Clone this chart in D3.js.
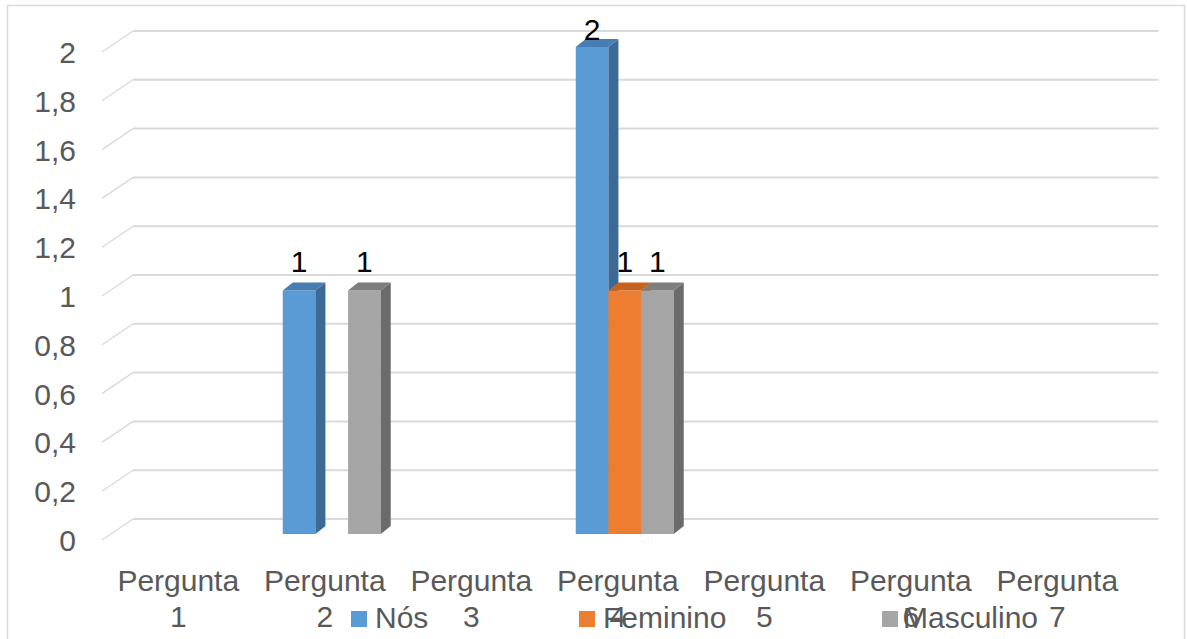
<!DOCTYPE html>
<html>
<head>
<meta charset="utf-8">
<script src="https://cdn.jsdelivr.net/npm/d3@7"></script>
<style>
  html, body { margin: 0; padding: 0; background: #fff; }
  svg { display: block; font-family: "Liberation Sans", Arial, sans-serif; }
</style>
</head>
<body>
<svg id="chart" width="1187" height="639"></svg>
<script>
// Categories, series and tick values
const categories = ["Pergunta 1", "Pergunta 2", "Pergunta 3", "Pergunta 4", "Pergunta 5", "Pergunta 6", "Pergunta 7"];
const seriesNames = ["Nós", "Feminino", "Masculino"];
const nosValues = [null, 1, null, 2, null, null, null];
const femininoValues = [null, null, null, 1, null, null, null];
const masculinoValues = [null, 1, null, 1, null, null, null];
const yTicks = [0, 0.2, 0.4, 0.6, 0.8, 1, 1.2, 1.4, 1.6, 1.8, 2];

const seriesValues = [nosValues, femininoValues, masculinoValues];
const palette = {
  "Nós":       { front: "#5B9BD5", side: "#3C6A97", top: "#467DB2" },
  "Feminino":  { front: "#ED7D31", side: "#B35B1E", top: "#C9621C" },
  "Masculino": { front: "#A5A5A5", side: "#6B6B6B", top: "#7E7E7E" }
};

const svg = d3.select("#chart");
const textGray = "#595959";
const gridColor = "#D9D9D9";

// Outer chart frame
svg.append("rect")
  .attr("x", 7.5).attr("y", 5.5)
  .attr("width", 1177).attr("height", 660)
  .attr("fill", "none").attr("stroke", gridColor).attr("stroke-width", 1.5);

// Perspective offsets: back wall relative to front edge, bar depth
const wallDx = 31, wallDy = -21;
const barDx = 10, barDy = -8;
const barShift = 10; // bars sit a little behind the front edge

// Scales
const x = d3.scaleBand().domain(categories).range([102, 102 + 7 * 146.5]);
const yWall = d3.scaleLinear().domain([0, 2]).range([519, 31]);
const yFront = d3.scaleLinear().domain([0, 2]).range([519 - wallDy, 31 - wallDy]);
const yBar = d3.scaleLinear().domain([0, 2]).range([534, 47]);
const inner = d3.scaleBand().domain(seriesNames).range([-49, 49]);

// Back-wall gridlines with their diagonal return to the front edge
const grid = svg.append("g");
yTicks.forEach(v => {
  grid.append("line")
    .attr("x1", x.range()[0] + wallDx).attr("x2", x.range()[1] + wallDx + 0)
    .attr("y1", yWall(v)).attr("y2", yWall(v))
    .attr("stroke", gridColor).attr("stroke-width", 2);
  grid.append("line")
    .attr("x1", x.range()[0]).attr("y1", yFront(v))
    .attr("x2", x.range()[0] + wallDx).attr("y2", yWall(v))
    .attr("stroke", gridColor).attr("stroke-width", 1.3);
});

// Value axis labels (decimal comma)
const ptBR = d3.formatLocale({ decimal: ",", thousands: ".", grouping: [3], currency: ["R$", ""] });
const yAxis = d3.axisLeft(yFront).tickValues(yTicks).tickFormat(ptBR.format(".1~f")).tickSize(0).tickPadding(0);
const yAxisG = svg.append("g").attr("transform", "translate(76,0)").call(yAxis);
yAxisG.select(".domain").remove();
yAxisG.selectAll("text")
  .attr("fill", textGray).attr("font-size", 30)
  .attr("dy", null).attr("dominant-baseline", "central")
  .attr("font-family", "'Liberation Sans', Arial, sans-serif");

// 3D columns: front, side, top faces, drawn left to right
const bars = [];
categories.forEach((c, i) => {
  seriesNames.forEach((s, j) => {
    const v = seriesValues[j][i];
    if (v !== null && v !== undefined) bars.push({ c, s, v });
  });
});

const barG = svg.append("g");
bars.forEach(d => {
  const x0 = x(d.c) + x.bandwidth() / 2 + barShift + inner(d.s);
  const x1 = x0 + inner.bandwidth();
  const yt = yBar(d.v), yb = yBar(0);
  const col = palette[d.s];
  const g = barG.append("g");
  g.append("rect").attr("x", x0).attr("y", yt).attr("width", x1 - x0).attr("height", yb - yt)
    .attr("fill", col.front);
  g.append("polygon")
    .attr("points", [[x1, yt], [x1 + barDx, yt + barDy], [x1 + barDx, yb + barDy], [x1, yb]].map(p => p.join(",")).join(" "))
    .attr("fill", col.side);
  g.append("polygon")
    .attr("points", [[x0, yt], [x0 + barDx, yt + barDy], [x1 + barDx, yt + barDy], [x1, yt]].map(p => p.join(",")).join(" "))
    .attr("fill", col.top);
});

// Data labels
svg.append("g").selectAll("text").data(bars).join("text")
  .attr("x", d => x(d.c) + x.bandwidth() / 2 + barShift + inner(d.s) + inner.bandwidth() / 2)
  .attr("y", d => Math.max(yBar(d.v) - 19, 40))
  .attr("text-anchor", "middle")
  .attr("font-size", 30)
  .attr("fill", "#000")
  .text(d => d.v);

// Category axis, labels wrapped onto two lines
const xAxis = d3.axisBottom(x).tickSize(0).tickPadding(0);
const xAxisG = svg.append("g").attr("transform", "translate(3,0)").call(xAxis);
xAxisG.select(".domain").remove();
xAxisG.selectAll(".tick text").each(function (d) {
  const t = d3.select(this);
  const parts = d.split(" ");
  t.text(null).attr("y", null).attr("dy", null)
    .attr("fill", textGray).attr("font-size", 30)
    .attr("font-family", "'Liberation Sans', Arial, sans-serif");
  t.append("tspan").attr("x", 0).attr("y", 591).text(parts[0]);
  t.append("tspan").attr("x", 0).attr("y", 627).text(parts[1]);
});

// Legend along the bottom
const legendX = [351, 579, 882];
const legend = svg.append("g").selectAll("g").data(seriesNames).join("g")
  .attr("transform", (d, i) => `translate(${legendX[i]},0)`);
legend.append("rect").attr("x", 0).attr("y", 611).attr("width", 16).attr("height", 16)
  .attr("fill", d => palette[d].front);
legend.append("text").attr("x", (d, i) => i === 2 ? 21 : 24).attr("y", 628)
  .attr("font-size", 30).attr("fill", textGray).text(d => d);
</script>
</body>
</html>
